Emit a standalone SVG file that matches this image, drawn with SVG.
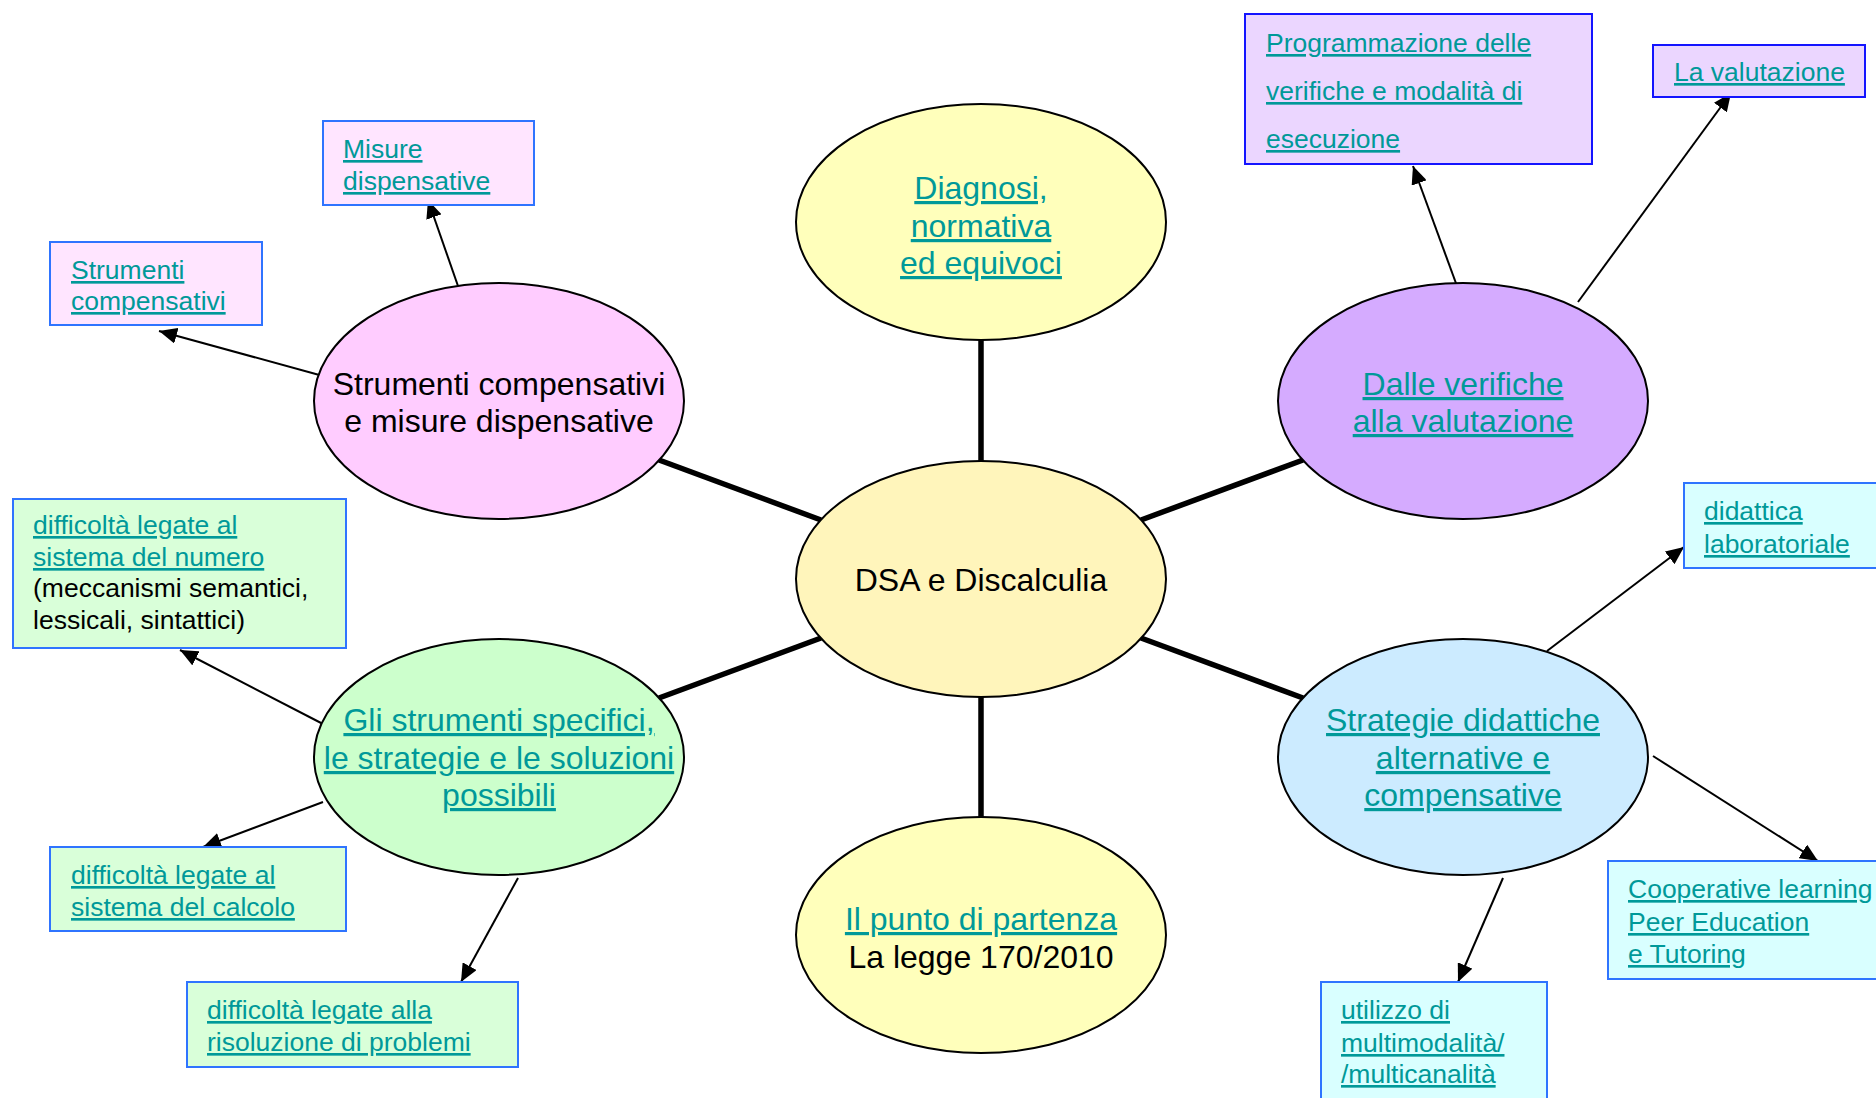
<svg xmlns="http://www.w3.org/2000/svg" width="1876" height="1098" viewBox="0 0 1876 1098">
  <defs>
    <marker id="arrow" markerUnits="userSpaceOnUse" markerWidth="19" markerHeight="16" refX="18" refY="8" orient="auto">
      <path d="M0,0 L18,8 L0,16 z" fill="#000"/>
    </marker>
    <style>
      text { font-family: "Liberation Sans", Arial, sans-serif; }
      .big { font-size: 32px; text-anchor: middle; }
      .small { font-size: 26.5px; }
      .link { fill: #009999; text-decoration: underline; }
      .plain { fill: #000; }
      .ell { stroke: #000; stroke-width: 2; }
      .box { stroke: #2F74FF; stroke-width: 2; }
      .box2 { stroke: #1414FF; stroke-width: 2; }
      .spoke { stroke: #000; stroke-width: 5.5; fill: none; }
      .arr { stroke: #000; stroke-width: 2; fill: none; marker-end: url(#arrow); }
    </style>
  </defs>
  <rect width="1876" height="1098" fill="#fff"/>

  <!-- connectors: thick spokes from the centre, thin arrows to the leaf boxes -->
  <g id="connectors">
    <line class="spoke" x1="981" y1="461" x2="981" y2="340"/>
    <line class="spoke" x1="981" y1="697" x2="981" y2="817"/>
    <line class="spoke" x1="821" y1="520" x2="659" y2="460"/>
    <line class="spoke" x1="1141" y1="520" x2="1303" y2="460"/>
    <line class="spoke" x1="821" y1="638" x2="659" y2="698"/>
    <line class="spoke" x1="1141" y1="638" x2="1303" y2="698"/>

    <line class="arr" x1="458" y1="286" x2="428" y2="200"/>
    <line class="arr" x1="323" y1="376" x2="159" y2="331"/>
    <line class="arr" x1="1457" y1="286" x2="1413" y2="166"/>
    <line class="arr" x1="1578" y1="302" x2="1731" y2="93"/>
    <line class="arr" x1="323" y1="724" x2="180" y2="650"/>
    <line class="arr" x1="323" y1="802" x2="203" y2="847"/>
    <line class="arr" x1="518" y1="878" x2="461" y2="982"/>
    <line class="arr" x1="1547" y1="651" x2="1684" y2="547"/>
    <line class="arr" x1="1653" y1="756" x2="1818" y2="861"/>
    <line class="arr" x1="1503" y1="878" x2="1458" y2="982"/>
  </g>

  <!-- central node -->
  <g id="dsa">
    <ellipse class="ell" cx="981" cy="579" rx="185" ry="118" fill="#FFF5BB"/>
    <text class="big plain" x="981" y="591">DSA e Discalculia</text>
  </g>

  <g id="diagnosi">
    <ellipse class="ell" cx="981" cy="222" rx="185" ry="118" fill="#FFFFBB"/>
    <text class="big link" x="981" y="199">Diagnosi,</text>
    <text class="big link" x="981" y="237">normativa</text>
    <text class="big link" x="981" y="274">ed equivoci</text>
  </g>

  <g id="partenza">
    <ellipse class="ell" cx="981" cy="935" rx="185" ry="118" fill="#FFFFBB"/>
    <text class="big link" x="981" y="930">Il punto di partenza</text>
    <text class="big plain" x="981" y="968">La legge 170/2010</text>
  </g>

  <g id="strumenti">
    <ellipse class="ell" cx="499" cy="401" rx="185" ry="118" fill="#FFCCFF"/>
    <text class="big plain" x="499" y="395">Strumenti compensativi</text>
    <text class="big plain" x="499" y="432">e misure dispensative</text>
  </g>

  <g id="verifiche">
    <ellipse class="ell" cx="1463" cy="401" rx="185" ry="118" fill="#D5ABFF"/>
    <text class="big link" x="1463" y="395">Dalle verifiche</text>
    <text class="big link" x="1463" y="432">alla valutazione</text>
  </g>

  <g id="specifici">
    <ellipse class="ell" cx="499" cy="757" rx="185" ry="118" fill="#CCFFCC"/>
    <text class="big link" x="499" y="731">Gli strumenti specifici,</text>
    <text class="big link" x="499" y="769">le strategie e le soluzioni</text>
    <text class="big link" x="499" y="806">possibili</text>
  </g>

  <g id="strategie">
    <ellipse class="ell" cx="1463" cy="757" rx="185" ry="118" fill="#CCEBFF"/>
    <text class="big link" x="1463" y="731">Strategie didattiche</text>
    <text class="big link" x="1463" y="769">alternative e</text>
    <text class="big link" x="1463" y="806">compensative</text>
  </g>

  <!-- leaf boxes -->
  <g id="misure">
    <rect class="box" x="323" y="121" width="211" height="84" fill="#FFE5FF"/>
    <text class="small link" x="343" y="158">Misure</text>
    <text class="small link" x="343" y="190">dispensative</text>
  </g>

  <g id="compensativi">
    <rect class="box" x="50" y="242" width="212" height="83" fill="#FFE5FF"/>
    <text class="small link" x="71" y="279">Strumenti</text>
    <text class="small link" x="71" y="310">compensativi</text>
  </g>

  <g id="programmazione">
    <rect class="box2" x="1245" y="14" width="347" height="150" fill="#EBD6FF"/>
    <text class="small link" x="1266" y="52">Programmazione delle</text>
    <text class="small link" x="1266" y="100">verifiche e modalità di</text>
    <text class="small link" x="1266" y="148">esecuzione</text>
  </g>

  <g id="valutazione">
    <rect class="box2" x="1653" y="45" width="212" height="52" fill="#EBD6FF"/>
    <text class="small link" x="1674" y="81">La valutazione</text>
  </g>

  <g id="numero">
    <rect class="box" x="13" y="499" width="333" height="149" fill="#D9FFD9"/>
    <text class="small link" x="33" y="534">difficoltà legate al</text>
    <text class="small link" x="33" y="566">sistema del numero</text>
    <text class="small plain" x="33" y="597">(meccanismi semantici,</text>
    <text class="small plain" x="33" y="629">lessicali, sintattici)</text>
  </g>

  <g id="calcolo">
    <rect class="box" x="50" y="847" width="296" height="84" fill="#D9FFD9"/>
    <text class="small link" x="71" y="884">difficoltà legate al</text>
    <text class="small link" x="71" y="916">sistema del calcolo</text>
  </g>

  <g id="problemi">
    <rect class="box" x="187" y="982" width="331" height="85" fill="#D9FFD9"/>
    <text class="small link" x="207" y="1019">difficoltà legate alla</text>
    <text class="small link" x="207" y="1051">risoluzione di problemi</text>
  </g>

  <g id="laboratoriale">
    <rect class="box" x="1684" y="483" width="200" height="85" fill="#D9FFFF"/>
    <text class="small link" x="1704" y="520">didattica</text>
    <text class="small link" x="1704" y="553">laboratoriale</text>
  </g>

  <g id="cooperative">
    <rect class="box" x="1608" y="861" width="276" height="118" fill="#D9FFFF"/>
    <text class="small link" x="1628" y="898">Cooperative learning</text>
    <text class="small link" x="1628" y="931">Peer Education</text>
    <text class="small link" x="1628" y="963">e Tutoring</text>
  </g>

  <g id="multimodalita">
    <rect class="box" x="1321" y="982" width="226" height="125" fill="#D9FFFF"/>
    <text class="small link" x="1341" y="1019">utilizzo di</text>
    <text class="small link" x="1341" y="1052">multimodalità/</text>
    <text class="small link" x="1341" y="1083">/multicanalità</text>
  </g>
</svg>
